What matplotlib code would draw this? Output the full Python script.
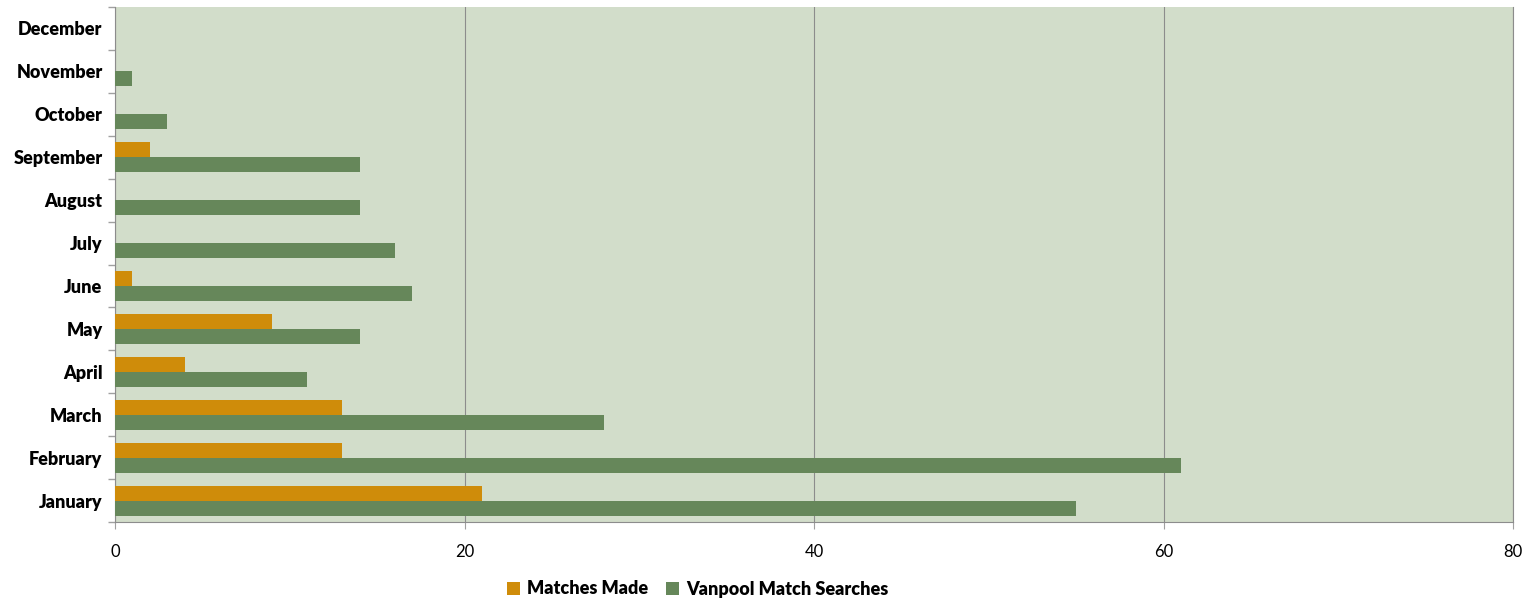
import matplotlib
matplotlib.use("Agg")
import matplotlib.pyplot as plt
import numpy as np
from matplotlib.ticker import FixedLocator

months = ["January", "February", "March", "April", "May", "June", "July",
          "August", "September", "October", "November", "December"]
matches_made = [21, 13, 13, 4, 9, 1, 0, 0, 2, 0, 0, 0]
vanpool_searches = [55, 61, 28, 11, 14, 17, 16, 14, 14, 3, 1, 0]
x_ticks = [0, 20, 40, 60, 80]

plt.rcParams['font.family'] = ['Lato', 'DejaVu Sans']

fig = plt.figure(figsize=(15.33, 6.02), dpi=100)
ax = fig.add_axes([115/1533, 1 - 522/602, (1513 - 115)/1533, (522 - 7)/602])
ax.set_facecolor("#D2DDCA")

y = np.arange(len(months))
h = 0.35
ax.barh(y + h/2, matches_made, height=h, color="#CF8C0A", label="Matches Made", zorder=3)
ax.barh(y - h/2, vanpool_searches, height=h, color="#66875A", label="Vanpool Match Searches", zorder=3)

ax.set_xlim(0, 80)
ax.set_ylim(-0.5, len(months) - 0.5)
ax.set_xticks(x_ticks)
ax.set_xticklabels([str(v) for v in x_ticks], fontsize=12)
ax.set_yticks(y)
ax.set_yticklabels(months, fontsize=13, fontweight="heavy")
ax.tick_params(axis='y', length=0, pad=9)
ax.yaxis.set_minor_locator(FixedLocator(np.arange(-0.5, len(months), 1)))
ax.tick_params(axis='y', which='minor', length=5, color="#A0A0A0", width=1)
ax.tick_params(axis='x', length=5, color="#A0A0A0", pad=11)

ax.grid(axis='x', color="#8C8C8C", linewidth=0.8, zorder=1)
ax.spines["top"].set_visible(False)
ax.spines["right"].set_color("#8C8C8C")
ax.spines["left"].set_color("#8C8C8C")
ax.spines["bottom"].set_color("#8C8C8C")

leg = fig.legend(loc="center", bbox_to_anchor=(698/1533, 1 - 589/602), ncol=2,
                 frameon=False, prop={'weight': 'heavy', 'size': 13},
                 handlelength=0.7, handleheight=0.7, handletextpad=0.4, columnspacing=1.0)

fig.savefig("out.png", dpi=100)
